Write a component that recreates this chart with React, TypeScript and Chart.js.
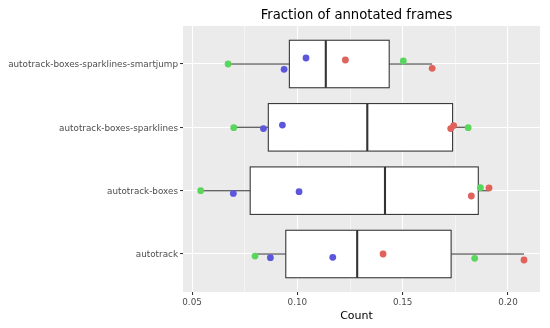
import React, { useEffect, useRef } from "react";
import { Chart, registerables } from "chart.js";

Chart.register(...registerables);

// Categories from bottom to top
const categories = [
  "autotrack",
  "autotrack-boxes",
  "autotrack-boxes-sparklines",
  "autotrack-boxes-sparklines-smartjump",
];

// Box statistics per category
const boxLow = [0.0799, 0.0541, 0.0698, 0.0671];
const boxQ1 = [0.0945, 0.0776, 0.0862, 0.0962];
const boxMedian = [0.1284, 0.1416, 0.1332, 0.1135];
const boxQ3 = [0.173, 0.1859, 0.1737, 0.1436];
const boxHigh = [0.2076, 0.191, 0.1811, 0.164];

// Jittered points (x value, category index, vertical jitter)
const redX = [0.1407, 0.2076, 0.1826, 0.191, 0.1728, 0.1742, 0.1228, 0.164];
const redCat = [0, 0, 1, 1, 2, 2, 3, 3];
const redJitter = [0.0, -0.095, -0.084, 0.043, -0.02, 0.027, 0.063, -0.068];

const greenX = [0.0799, 0.1842, 0.0541, 0.1869, 0.0698, 0.1811, 0.0671, 0.1503];
const greenCat = [0, 0, 1, 1, 2, 2, 3, 3];
const greenJitter = [-0.032, -0.068, 0.0, 0.047, -0.005, -0.005, 0.0, 0.047];

const blueX = [0.0872, 0.1168, 0.0696, 0.1008, 0.0839, 0.0929, 0.0937, 0.1041];
const blueCat = [0, 0, 1, 1, 2, 2, 3, 3];
const blueJitter = [-0.058, -0.052, -0.043, -0.016, -0.02, 0.036, -0.084, 0.095];

const xTickValues = [0.05, 0.075, 0.1, 0.125, 0.15, 0.175, 0.2];

const FONT = "DejaVu Sans";

const isMajor = (v: number) => Math.abs(v * 20 - Math.round(v * 20)) < 1e-6;

const toPoints = (xs: number[], cats: number[], jit: number[]) =>
  xs.map((x, i) => ({ x, y: cats[i] + 1 + jit[i] }));

const panelPlugin = {
  id: "panel",
  beforeDraw(chart: any) {
    const { ctx, chartArea } = chart;
    ctx.save();
    ctx.fillStyle = "#EBEBEB";
    ctx.fillRect(chartArea.left, chartArea.top, chartArea.right - chartArea.left, chartArea.bottom - chartArea.top);
    ctx.restore();
  },
  beforeDatasetsDraw(chart: any) {
    const { ctx } = chart;
    const xs = chart.scales.x;
    const ys = chart.scales.y;
    const half = 0.375;
    ctx.save();
    for (let i = 0; i < categories.length; i++) {
      const yc = ys.getPixelForValue(i + 1);
      const yt = ys.getPixelForValue(i + 1 + half);
      const yb = ys.getPixelForValue(i + 1 - half);
      const xl = xs.getPixelForValue(boxLow[i]);
      const x1 = xs.getPixelForValue(boxQ1[i]);
      const xm = xs.getPixelForValue(boxMedian[i]);
      const x3 = xs.getPixelForValue(boxQ3[i]);
      const xh = xs.getPixelForValue(boxHigh[i]);
      ctx.strokeStyle = "#333333";
      ctx.lineWidth = 1.07;
      // whiskers
      ctx.beginPath();
      ctx.moveTo(xl, yc);
      ctx.lineTo(x1, yc);
      ctx.moveTo(x3, yc);
      ctx.lineTo(xh, yc);
      ctx.stroke();
      // box
      ctx.fillStyle = "#FFFFFF";
      ctx.fillRect(x1, yt, x3 - x1, yb - yt);
      ctx.strokeRect(x1, yt, x3 - x1, yb - yt);
      // median
      ctx.lineWidth = 2.1;
      ctx.beginPath();
      ctx.moveTo(xm, yt);
      ctx.lineTo(xm, yb);
      ctx.stroke();
    }
    ctx.restore();
  },
  afterDraw(chart: any) {
    const { ctx, chartArea } = chart;
    const cx = (chartArea.left + chartArea.right) / 2 - 5;
    ctx.save();
    ctx.fillStyle = "#000000";
    ctx.textAlign = "center";
    ctx.textBaseline = "alphabetic";
    ctx.font = `13.2px "${FONT}"`;
    ctx.fillText("Fraction of annotated frames", cx, 18.5);
    ctx.font = `11px "${FONT}"`;
    ctx.fillText("Count", cx, 318.7);
    ctx.restore();
  },
};

export default function App() {
  const ref = useRef<HTMLCanvasElement | null>(null);

  useEffect(() => {
    if (!ref.current) return;
    const chart = new Chart(ref.current, {
      type: "scatter",
      data: {
        datasets: [
          {
            label: "red",
            data: toPoints(redX, redCat, redJitter),
            backgroundColor: "#E0625A",
            borderWidth: 0,
            pointRadius: 3.4,
          },
          {
            label: "green",
            data: toPoints(greenX, greenCat, greenJitter),
            backgroundColor: "#5AD65C",
            borderWidth: 0,
            pointRadius: 3.4,
          },
          {
            label: "blue",
            data: toPoints(blueX, blueCat, blueJitter),
            backgroundColor: "#5B56DC",
            borderWidth: 0,
            pointRadius: 3.4,
          },
        ],
      },
      options: {
        animation: false,
        responsive: true,
        maintainAspectRatio: false,
        layout: { padding: { left: 0, right: 10, top: 26, bottom: 0 } },
        plugins: {
          legend: { display: false },
          tooltip: { enabled: false },
          title: { display: false },
        },
        scales: {
          x: {
            type: "linear",
            min: 0.0457,
            max: 0.2152,
            afterBuildTicks: (scale: any) => {
              scale.ticks = xTickValues.map((v) => ({ value: v }));
            },
            afterFit: (scale: any) => {
              scale.height = 36;
            },
            border: { display: false },
            grid: {
              color: "#FFFFFF",
              lineWidth: (c: any) => (c.tick && isMajor(c.tick.value) ? 1.07 : 0.53),
              tickLength: 3,
              tickColor: (c: any) => (c.tick && isMajor(c.tick.value) ? "#333333" : "rgba(0,0,0,0)"),
              tickWidth: 1.07,
            },
            ticks: {
              autoSkip: false,
              maxRotation: 0,
              padding: 2,
              color: "#4D4D4D",
              font: { family: FONT, size: 8.8 },
              callback: (v: any) => (isMajor(Number(v)) ? Number(v).toFixed(2) : ""),
            },
          },
          y: {
            type: "linear",
            min: 0.4,
            max: 4.6,
            afterBuildTicks: (scale: any) => {
              scale.ticks = categories.map((_, i) => ({ value: i + 1 }));
            },
            afterFit: (scale: any) => {
              scale.width = 183;
            },
            border: { display: false },
            grid: {
              color: "#FFFFFF",
              lineWidth: 1.07,
              tickLength: 3,
              tickColor: "#333333",
              tickWidth: 1.07,
            },
            ticks: {
              autoSkip: false,
              padding: 2,
              labelOffset: 1,
              color: "#4D4D4D",
              font: { family: FONT, size: 8.8 },
              callback: (v: any) => categories[Math.round(Number(v)) - 1] ?? "",
            },
          },
        },
      },
      plugins: [panelPlugin],
    });
    return () => chart.destroy();
  }, []);

  return (
    <div style={{ position: "fixed", left: 0, top: 0, width: 550, height: 328, background: "#FFFFFF" }}>
      <canvas ref={ref} />
    </div>
  );
}
